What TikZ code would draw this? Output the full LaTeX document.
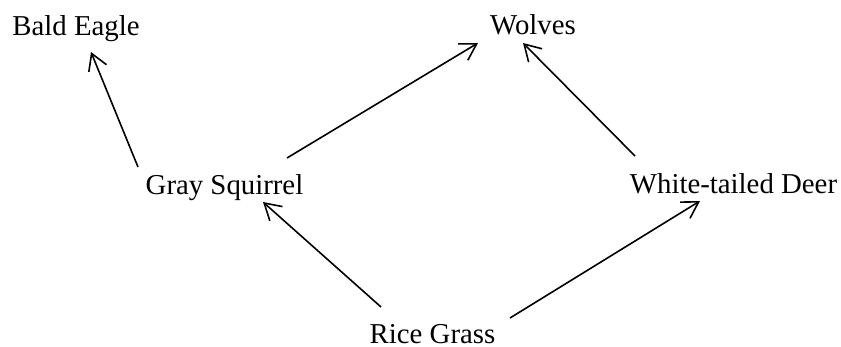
\documentclass[tikz,border=0pt]{standalone}
\usepackage{fontspec}
\setmainfont{Liberation Serif}
\usetikzlibrary{arrows.meta}
\begin{document}
\begin{tikzpicture}[x=1pt,y=1pt,
  lbl/.style={inner sep=0pt, anchor=base, font=\fontsize{28.8}{34}\selectfont},
  arr/.style={line width=1.6pt, -{Straight Barb[length=16pt, width=19pt]}}]
\useasboundingbox (0,0) rectangle (841,-347);
\node[lbl] (be) at (76,-36) {Bald Eagle};
\node[lbl] (wo) at (533,-35) {Wolves};
\node[lbl] (sq) at (224.5,-195) {Gray Squirrel};
\node[lbl] (de) at (733.5,-194) {White-tailed Deer};
\node[lbl] (rg) at (432.5,-344) {Rice Grass};
\draw[arr] ([shift={(-86.5pt,28pt)}]sq.base) -- ([shift={(15pt,-16pt)}]be.base);
\draw[arr] ([shift={(62.5pt,37pt)}]sq.base) -- ([shift={(-55pt,-8pt)}]wo.base);
\draw[arr] ([shift={(-98.5pt,38pt)}]de.base) -- ([shift={(-10pt,-8pt)}]wo.base);
\draw[arr] ([shift={(-51.5pt,37pt)}]rg.base) -- ([shift={(38.5pt,-7pt)}]sq.base);
\draw[arr] ([shift={(77.5pt,26pt)}]rg.base) -- ([shift={(-33.5pt,-7pt)}]de.base);
\end{tikzpicture}
\end{document}
